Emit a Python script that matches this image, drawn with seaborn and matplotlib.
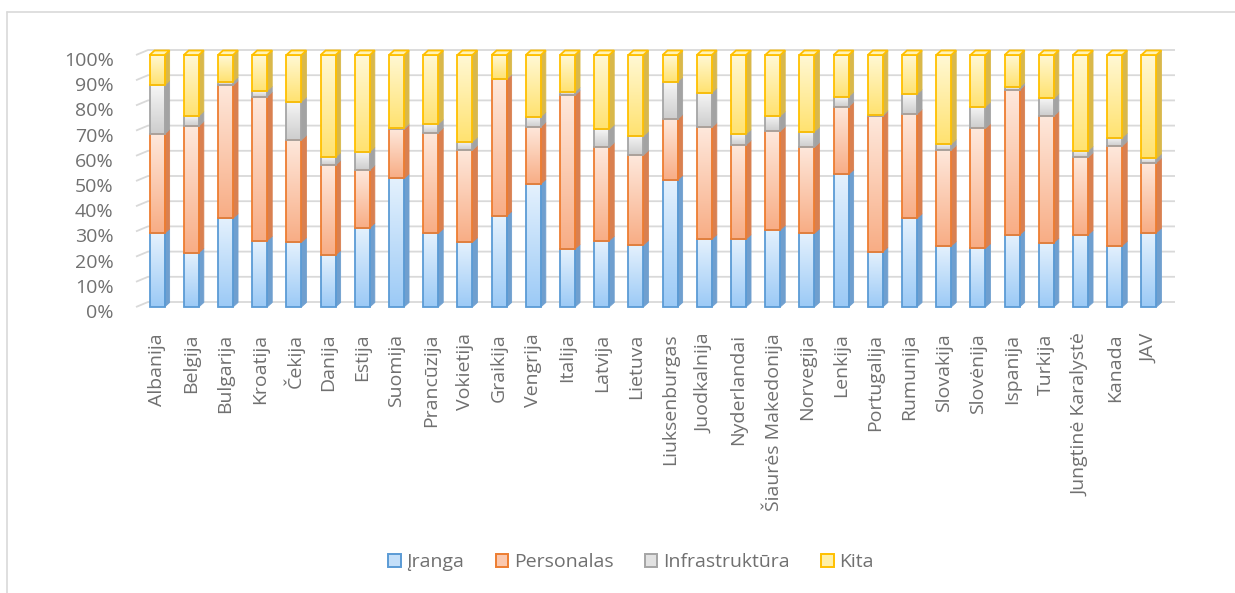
import numpy as np
import pandas as pd
import matplotlib
matplotlib.use("Agg")
import matplotlib.pyplot as plt
import matplotlib.transforms as mtransforms
import seaborn as sns
from matplotlib.patches import Polygon, Patch
from matplotlib.lines import Line2D
from matplotlib.colors import to_rgb

# ---------------- data ----------------
countries = ["Albanija", "Belgija", "Bulgarija", "Kroatija", "Čekija", "Danija", "Estija",
             "Suomija", "Prancūzija", "Vokietija", "Graikija", "Vengrija", "Italija", "Latvija",
             "Lietuva", "Liuksenburgas", "Juodkalnija", "Nyderlandai", "Šiaurės Makedonija",
             "Norvegija", "Lenkija", "Portugalija", "Rumunija", "Slovakija", "Slovėnija",
             "Ispanija", "Turkija", "Jungtinė Karalystė", "Kanada", "JAV"]
iranga = [29.2, 21.5, 35.2, 26.3, 25.7, 20.6, 31.5, 51.0, 29.2, 25.7, 36.1, 48.8, 23.0, 26.3,
          24.6, 50.4, 26.9, 26.9, 30.6, 29.2, 52.6, 21.9, 35.2, 24.2, 23.3, 28.6, 25.5, 28.6,
          24.3, 29.5]
personalas = [39.4, 50.3, 52.8, 57.2, 40.6, 35.7, 22.9, 19.5, 40.0, 36.6, 54.2, 22.7, 61.1, 37.1,
              35.7, 24.1, 44.4, 37.4, 39.2, 34.2, 26.9, 53.9, 41.4, 38.1, 47.6, 57.5, 50.3, 30.8,
              39.6, 27.8]
infrastruktura = [19.4, 4.0, 1.4, 2.3, 15.2, 3.1, 7.2, 0.5, 3.4, 3.3, 0.3, 4.0, 1.3, 7.1,
                  7.6, 14.9, 13.7, 4.3, 6.0, 6.2, 4.0, 0.4, 7.9, 2.4, 8.6, 1.1, 7.0, 2.6,
                  3.3, 1.7]
kita = [12.0, 24.2, 10.6, 14.2, 18.5, 40.6, 38.4, 29.0, 27.4, 34.4, 9.4, 24.5, 14.6, 29.5,
        32.1, 10.6, 15.0, 31.4, 24.2, 30.4, 16.5, 23.8, 15.5, 35.3, 20.5, 12.8, 17.2, 38.0,
        32.8, 41.0]
series_names = ["Įranga", "Personalas", "Infrastruktūra", "Kita"]
yticks = [0, 10, 20, 30, 40, 50, 60, 70, 80, 90, 100]

# ---------------- styles ----------------
styles = {
    "Įranga":         dict(edge="#5b9bd5", top="#e4f1fd", bottom="#9ccaf6", side="#6f9fcf", legend="#c4dff9"),
    "Personalas":     dict(edge="#ed7d31", top="#fee8dc", bottom="#f8ad85", side="#d98050", legend="#fbc8ae"),
    "Infrastruktūra": dict(edge="#a5a5a5", top="#f6f6f6", bottom="#cdcdcd", side="#a3a3a3", legend="#e2e2e2"),
    "Kita":           dict(edge="#ffc000", top="#fff8d4", bottom="#ffe270", side="#d9b84a", legend="#fff0a8"),
}
text_color = "#707070"
grid_color = "#d9d9d9"
FS = 14

sns.set_theme(style="white")
plt.rcParams["font.family"] = ["Open Sans", "DejaVu Sans"]

df = pd.DataFrame({"Šalis": countries, "Įranga": iranga, "Personalas": personalas,
                   "Infrastruktūra": infrastruktura, "Kita": kita})
vals = df[series_names].to_numpy(dtype=float)
shares = vals / vals.sum(axis=1, keepdims=True) * 100.0
bottoms = np.hstack([np.zeros((len(countries), 1)), np.cumsum(shares, axis=1)[:, :-1]])

W, H = 1235, 593
fig = plt.figure(figsize=(W / 100, H / 100), dpi=100)
ax = fig.add_axes([140 / W, 1 - 307 / H, (1166 - 140) / W, (307 - 55) / H])

bar_info = []
for i, name in enumerate(series_names):
    sub = pd.DataFrame({"Šalis": countries, "v": shares[:, i]})
    n_before = len(ax.patches)
    sns.barplot(data=sub, x="Šalis", y="v", order=countries, bottom=bottoms[:, i],
                width=0.44, color=styles[name]["legend"], saturation=1,
                edgecolor=styles[name]["edge"], linewidth=1.3, ax=ax, zorder=3)
    for p in ax.patches[n_before:]:
        bar_info.append((p, name))

ax.set_xlim(-0.5, len(countries) - 0.5)
ax.set_ylim(0, 100)

# pixel -> data scale
px_x = ax.transData.transform((1, 0))[0] - ax.transData.transform((0, 0))[0]
px_y = ax.transData.transform((0, 1))[1] - ax.transData.transform((0, 0))[1]
dx = 5 / px_x
dy = 4.5 / px_y

# gradient fills and 3D faces
for p, name in bar_info:
    st = styles[name]
    x, y, w, h = p.get_x(), p.get_y(), p.get_width(), p.get_height()
    if h <= 0:
        continue
    c_top = np.array(to_rgb(st["top"]))
    c_bot = np.array(to_rgb(st["bottom"]))
    t = np.linspace(0, 1, 64)[:, None]
    grad = (c_top * (1 - t) + c_bot * t)[:, None, :]
    im = ax.imshow(grad, extent=[x, x + w, y, y + h], origin="upper", aspect="auto",
                   interpolation="bilinear", zorder=2.5)
    im.set_clip_path(p)
    p.set_facecolor("none")
    side = Polygon([(x + w, y), (x + w + dx, y + dy), (x + w + dx, y + h + dy), (x + w, y + h)],
                   closed=True, facecolor=st["side"], edgecolor=st["side"], linewidth=0.6,
                   zorder=2.8, clip_on=False)
    ax.add_patch(side)
    if name == series_names[-1]:
        top = Polygon([(x, y + h), (x + dx, y + h + dy), (x + w + dx, y + h + dy), (x + w, y + h)],
                      closed=True, facecolor="#fff3b8", edgecolor=st["edge"], linewidth=1.3,
                      zorder=3.2, clip_on=False)
        ax.add_patch(top)
    p.set_clip_on(False)

ax.set_xlim(-0.5, len(countries) - 0.5)
ax.set_ylim(0, 100)

# 3D-style gridlines (side wall slant + back wall)
x_front = -0.5 - 4 / px_x
x_back = -0.5 + 8 / px_x
x_end = len(countries) - 0.5 + 9 / px_x
off = 5 / px_y
for v in yticks:
    ax.plot([x_front, x_back, x_end], [v, v + off, v + off], color=grid_color, lw=1.3,
            zorder=1, clip_on=False, solid_capstyle="butt")

ax.set_yticks(yticks)
ax.set_yticklabels([f"{v}%" for v in yticks])
ax.set_xlabel("")
ax.set_ylabel("")
for s in ax.spines.values():
    s.set_visible(False)
ax.tick_params(axis="y", length=0, pad=19, labelsize=FS, labelcolor=text_color)
ax.tick_params(axis="x", length=0, pad=19, labelsize=FS, labelcolor=text_color)
shift = mtransforms.ScaledTranslation(0, -4 / 100, fig.dpi_scale_trans)
for lab in ax.get_yticklabels():
    lab.set_transform(lab.get_transform() + shift)
for lab in ax.get_xticklabels():
    lab.set_rotation(90)
    lab.set_ha("center")
    lab.set_va("top")
ax.grid(False)

# legend
handles = [Patch(facecolor=styles[n]["legend"], edgecolor=styles[n]["edge"], linewidth=1.4)
           for n in series_names]
fig.legend(handles, series_names, loc="center", bbox_to_anchor=(631 / W, 1 - 562 / H),
           ncol=4, frameon=False, handlelength=0.65, handleheight=0.65, handletextpad=0.3,
           columnspacing=1.6, fontsize=FS, labelcolor=text_color)

# chart area border
fig.add_artist(Line2D([7 / W, 1], [1 - 12 / H, 1 - 12 / H], transform=fig.transFigure,
                      color=grid_color, lw=1.2))
fig.add_artist(Line2D([7 / W, 7 / W], [0, 1 - 12 / H], transform=fig.transFigure,
                      color=grid_color, lw=1.2))

fig.savefig("out.png", dpi=100)
